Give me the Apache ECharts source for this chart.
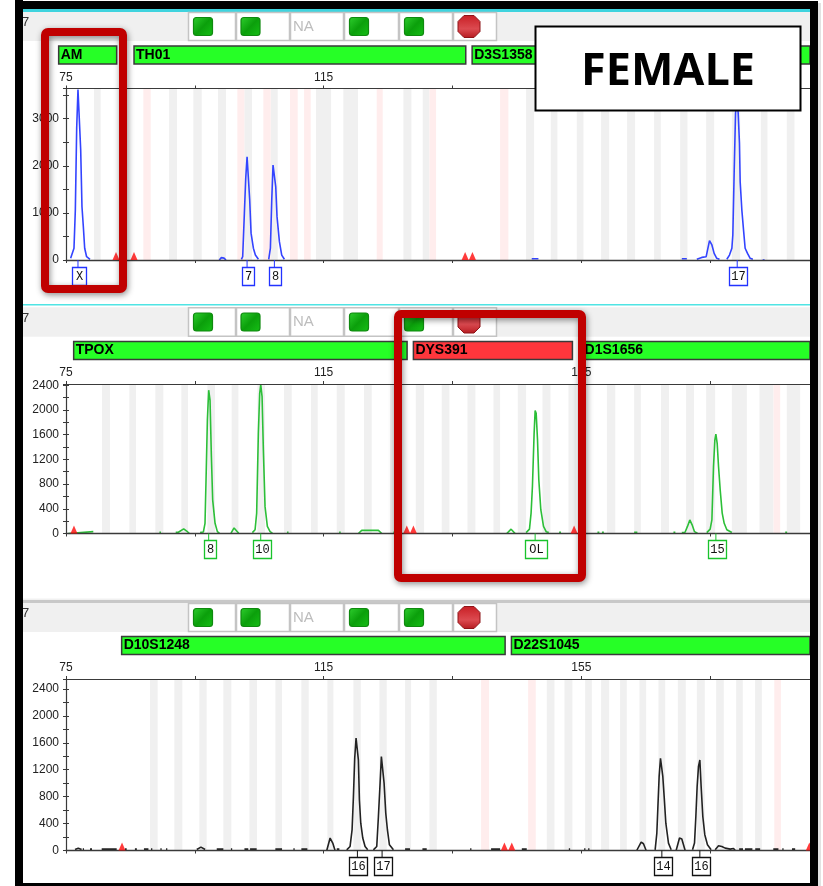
<!DOCTYPE html>
<html><head><meta charset="utf-8">
<style>html,body{margin:0;padding:0;background:#fff}#c{width:823px;height:886px}</style>
<script src="https://cdn.jsdelivr.net/npm/echarts@6/dist/echarts.min.js"></script>
</head><body><div id="c"></div>
<script>
// ---------- data (fragment size in bp, height in RFU) ----------
const xTicks = [75, 95, 115, 135, 155, 175];
const xLabels = [75, 115, 155];

const binsGray1 = [[79.35,80.38],[91,92.24],[94.77,96.07],[98.6,99.84],[102.69,103.88],[106.78,107.87],[113.82,116.15],[118.06,120.34],[127.38,128.62],[130.38,131.42],[146.43,147.67],[150.26,151.29],[154.3,155.33],[158.07,159.32],[162.11,163.35],[166.3,167.34],[170.34,171.48],[174.38,175.62],[178.37,179.66],[182.87,183.9],[186.9,188.09]];
const binsPink1 = [[87.01,88.15],[101.6,102.69],[105.64,106.78],[109.78,110.97],[111.96,112.99],[123.24,124.17],[131.42,132.45],[142.39,143.68]];
const binsGray2 = [[80.59,81.83],[84.83,85.87],[88.87,90.11],[92.91,93.94],[96.95,98.14],[100.72,101.76],[104.71,105.9],[108.85,110.04],[113.04,114.08],[117.03,118.27],[121.27,122.46],[125.31,126.35],[129.3,130.59],[133.33,134.52],[137.32,138.56],[141.36,142.39],[145.14,146.43],[148.97,150.21],[153,154.14],[158.97,160.27],[163.2,164.24],[167.37,168.61],[171.26,172.5],[174.38,175.78],[178.37,180.7],[182.66,184.84],[186.9,188.97]];
const binsPink2 = [[184.84,185.87]];
const binsGray3 = [[88.04,89.23],[91.82,93.06],[95.7,96.84],[99.43,100.67],[103.47,104.66],[107.51,108.54],[111.54,112.68],[115.58,116.51],[119.62,120.76],[123.65,124.79],[127.64,128.57],[131.42,132.56],[149.64,150.83],[152.38,153.62],[155.59,156.63],[158.07,159.32],[161.02,162.06],[164.03,165.06],[166.98,168.02],[169.98,171.22],[172.93,174.17],[175.93,177.12],[179.04,180.07],[181.98,183.02]];
const binsPink3 = [[139.44,140.68],[146.74,147.93],[184.96,185.99]];

const traceBlue = [
 [[75.72,35],[76.24,250],[76.45,1060],[76.66,2800],[76.86,3620],[77.07,3610],[77.28,2340],[77.48,1130],[77.69,710],[77.9,250],[78.2,70],[78.73,15]],
 [[98.8,0],[99.12,50],[99.53,40],[99.84,0]],
 [[102.23,15],[102.43,70],[102.69,990],[102.9,1730],[103.11,2190],[103.31,2160],[103.52,1270],[103.73,570],[104.09,250],[104.4,105],[104.87,15]],
 [[106.47,15],[106.73,250],[106.94,1270],[107.14,2015],[107.35,2050],[107.56,1555],[107.76,920],[108.13,390],[108.49,105],[108.9,15]],
 [[147.3,25],[148.34,25]],
 [[170.6,25],[171.38,25]],
 [[172.93,15],[173.7,55],[174.38,70],[174.9,410],[175.27,320],[175.62,140],[176.02,35],[176.45,15]],
 [[177.59,15],[178,105],[178.37,250],[178.52,530],[178.73,1875],[178.94,3115],[179.2,3500],[179.35,3115],[179.55,2480],[179.66,1660],[179.92,1060],[180.18,640],[180.43,250],[180.8,140],[181.21,35],[181.63,15]],
 [[183.15,0],[183.3,30],[183.45,0]]
];
const traceGreen = [
 [[75.36,0],[75.6,30],[79.24,30]],
 [[89.5,20],[89.75,20]],
 [[92.03,20],[92.44,20],[92.7,15],[93.27,75],[93.74,40],[94.15,0]],
 [[95.81,15],[96.33,25],[96.58,165],[96.74,870],[96.95,1840],[97.15,2320],[97.36,2160],[97.57,1245],[97.77,545],[98.14,165],[98.5,30],[98.81,5]],
 [[100.62,5],[101.09,90],[101.4,75],[101.81,5]],
 [[103.93,15],[104.35,60],[104.6,330],[104.86,1620],[105.07,2270],[105.23,2410],[105.44,2215],[105.64,1350],[105.9,435],[106.26,115],[106.68,30],[107.04,5]],
 [[109.3,20],[109.55,20]],
 [[117.4,20],[117.65,20]],
 [[120.39,0],[120.91,50],[123.5,50],[124.02,0]],
 [[125.83,20],[126.35,20]],
 [[143.43,0],[144.1,70],[144.72,0]],
 [[146.43,15],[146.95,70],[147.2,330],[147.41,760],[147.67,1620],[147.83,1990],[147.99,1945],[148.2,1515],[148.4,870],[148.71,385],[149.13,115],[149.54,30],[149.95,15]],
 [[151.55,20],[151.85,20]],
 [[157.5,20],[157.8,20]],
 [[158.2,20],[158.5,20]],
 [[163.2,20],[163.7,20]],
 [[169.3,20],[169.6,20]],
 [[170.6,15],[171.1,20],[171.48,115],[171.84,220],[172.2,140],[172.57,30],[173.03,5]],
 [[174.48,15],[175,70],[175.27,220],[175.52,1085],[175.73,1515],[175.89,1610],[176.09,1460],[176.3,1085],[176.56,705],[176.87,330],[177.18,165],[177.59,60],[178.37,15]],
 [[186.65,20],[186.95,20]]
];
const traceBlack = [
 [[76.4,15],[76.9,35],[77.43,15]],[[77.6,20],[77.8,20]],[[78.73,20],[79.04,20]],[[80.54,20],[82.87,20]],[[84.16,20],[84.42,20]],[[85.7,20],[86,20]],[[87.1,20],[87.8,20]],[[88.2,20],[88.4,20]],[[89.65,20],[89.85,20]],[[90.53,20],[90.73,20]],
 [[95.3,15],[95.95,50],[96.6,15]],[[98.4,20],[99.43,20]],[[100.6,20],[100.8,20]],[[102.7,20],[103.3,20]],[[103.57,20],[104.6,20]],[[107.5,20],[108.54,20]],[[110.3,20],[110.5,20]],[[111.54,20],[112.47,20]],
 [[115.48,0],[116,185],[116.41,110],[116.77,0]],[[117.03,20],[117.44,20]],
 [[118.58,10],[119.1,60],[119.41,305],[119.62,800],[119.82,1370],[120.03,1670],[120.24,1695],[120.39,1345],[120.55,750],[120.76,405],[121.07,185],[121.43,60],[121.84,10]],
 [[122.72,10],[123.24,60],[123.5,505],[123.76,1000],[123.96,1395],[124.17,1395],[124.38,1000],[124.64,555],[124.9,305],[125.21,85],[125.83,10]],
 [[127.64,20],[128.4,20]],[[130.33,20],[131,20]],[[137.74,20],[137.94,20]],[[140.99,20],[142.39,20]],[[145.76,20],[146.53,20]],[[153.06,20],[153.26,20]],[[155.44,20],[155.64,20]],[[156.06,20],[156.26,20]],
 [[163.6,0],[164.29,125],[164.65,100],[165.06,0]],
 [[166.46,10],[166.72,255],[166.88,630],[167.08,1100],[167.29,1370],[167.5,1395],[167.65,1100],[167.86,800],[168.12,405],[168.53,110],[168.95,10]],
 [[169.72,0],[170.24,185],[170.6,170],[171.12,0]],
 [[172.26,10],[172.57,110],[172.78,505],[172.98,950],[173.19,1250],[173.4,1345],[173.6,950],[173.86,505],[174.17,235],[174.58,85],[175.15,10]],
 [[175.78,10],[176.3,70],[176.81,60],[177.33,35],[178.11,20],[178.63,30],[178.9,0]],
 [[179.5,20],[180.1,20]],[[180.4,20],[181.56,20]],[[182,20],[182.76,20]],[[184.8,20],[185.6,20]],[[186.2,20],[186.4,20]],[[187.7,20],[188.2,20]]
];

const offScale1 = [82.76,85.56,136.96,138.1];
const offScale2 = [76.24,127.9,128.93,153.88];
const offScale3 = [83.7,143.06,144.2,190.4];

const alleles1 = [["X",76.86],["7",103.11],["8",107.35],["17",179.2]];
const alleles2 = [["8",97.15],["10",105.23],["OL",147.83],["15",175.89]];
const alleles3 = [["16",120.24],["17",124.07],["14",167.5],["16",173.4]];

const loci1 = [["AM",73.86,82.87],["TH01",85.56,137.06],["D3S1358",138.05,190.5]];
const loci2 = [["TPOX",76.19,127.95],["DYS391",128.93,153.62],["D1S1656",155.2,190.5]];
const loci3 = [["D10S1248",83.64,143.17],["D22S1045",144.15,190.5]];

const yMax = [3640,2420,2547];
const yInterval = [1000,400,400];
const markerTitle = "FEMALE";
const buttons = ["green","green","NA","green","green","red"];

// ---------- layout ----------
const panels = [
 {top:88.5,base:260,color:'#3344ff',box:'#2233ff',trace:traceBlue,gray:binsGray1,pink:binsPink1,off:offScale1,alleles:alleles1,loci:loci1},
 {top:384,base:533.5,color:'#2cbf38',box:'#19c32c',trace:traceGreen,gray:binsGray2,pink:binsPink2,off:offScale2,alleles:alleles2,loci:loci2},
 {top:679,base:850.5,color:'#222222',box:'#111111',trace:traceBlack,gray:binsGray3,pink:binsPink3,off:offScale3,alleles:alleles3,loci:loci3}
];
const XMIN=75, XMAX=190.5, axisCol='#3a3a3a', labelCol='#222';
const grids=[],xAxes=[],yAxes=[],series=[];
panels.forEach((p,i)=>{
 grids.push({left:66,right:13,top:p.top,height:p.base-p.top,containLabel:false});
 const base={gridIndex:i,type:'value',min:XMIN,max:XMAX,splitLine:{show:false},z:5};
 xAxes.push(Object.assign({},base,{position:'bottom',axisLine:{show:true,onZero:false,lineStyle:{color:axisCol,width:1.4}},axisTick:{show:false},axisLabel:{show:false}}));
 xAxes.push(Object.assign({},base,{position:'top',axisLine:{show:true,onZero:false,lineStyle:{color:axisCol,width:1.2}},
   axisTick:{show:true,length:3,lineStyle:{color:axisCol},customValues:xTicks},
   axisLabel:{show:true,customValues:xLabels,margin:5,fontFamily:'Liberation Sans',fontSize:12,color:labelCol}}));
 xAxes.push(Object.assign({},base,{position:'top',axisLine:{show:false},
   axisTick:{show:true,inside:true,length:3,lineStyle:{color:axisCol},customValues:xTicks},axisLabel:{show:false}}));
 const yb={gridIndex:i,type:'value',min:0,max:yMax[i],interval:yInterval[i],position:'left',splitLine:{show:false},z:5};
 yAxes.push(Object.assign({},yb,{axisLine:{show:true,onZero:false,lineStyle:{color:axisCol,width:1.2}},
   axisTick:{show:true,length:3,lineStyle:{color:axisCol}},minorTick:{show:true,splitNumber:2,length:3,lineStyle:{color:axisCol}},
   axisLabel:{show:true,showMaxLabel:false,margin:7,fontFamily:'Liberation Sans',fontSize:12,color:labelCol,formatter:v=>String(v)}}));
 yAxes.push(Object.assign({},yb,{axisLine:{show:false},
   axisTick:{show:true,inside:true,length:3,lineStyle:{color:axisCol}},minorTick:{show:true,splitNumber:2,length:3,lineStyle:{color:axisCol}},
   axisLabel:{show:false}}));
 const xi=3*i, yi=2*i;
 const binSeries=(bins,fill)=>({type:'custom',xAxisIndex:xi,yAxisIndex:yi,z:1,clip:true,silent:true,data:bins,
   encode:{x:[0,1]},
   renderItem:(par,api)=>{const a=api.coord([api.value(0),yMax[i]]),b=api.coord([api.value(1),0]);
     return {type:'rect',shape:{x:a[0],y:a[1],width:b[0]-a[0],height:b[1]-a[1]},style:{fill}};}});
 series.push(binSeries(p.gray,'#f0f0f0'));
 series.push(binSeries(p.pink,'#ffeded'));
 // locus bars
 series.push({type:'custom',xAxisIndex:xi,yAxisIndex:yi,z:3,clip:false,silent:true,
   data:p.loci.map(l=>[l[1],l[2]]),encode:{x:[0,1]},
   renderItem:(par,api)=>{const a=api.coord([api.value(0),yMax[i]]),b=api.coord([api.value(1),yMax[i]]);
     const red=p.loci[par.dataIndex][0]==='DYS391';
     return {type:'group',children:[
      {type:'rect',shape:{x:a[0],y:p.top-42.5,width:b[0]-a[0],height:18},style:{fill:red?'#ff363c':'#26ff26',stroke:'#3a3a3a',lineWidth:1.5}},
      {type:'text',style:{x:a[0]+2,y:p.top-33.5,text:p.loci[par.dataIndex][0],fill:'#000',font:'bold 14px "Liberation Sans"',verticalAlign:'middle'}}
     ]};}});
 // trace
 const data=[];p.trace.forEach(s=>{s.forEach(q=>data.push(q));data.push([s[s.length-1][0],null]);});
 series.push({type:'line',xAxisIndex:xi,yAxisIndex:yi,z:4,data,showSymbol:false,silent:true,connectNulls:false,
   lineStyle:{color:p.color,width:1.6},itemStyle:{color:p.color},animation:false});
 // off-scale triangles
 series.push({type:'scatter',xAxisIndex:xi,yAxisIndex:yi,z:6,silent:true,data:p.off.map(v=>[v,0]),
   symbol:'triangle',symbolSize:[7,8],symbolOffset:[0,-4],itemStyle:{color:'#ff0a0a'},clip:false});
 // allele boxes
 series.push({type:'custom',xAxisIndex:xi,yAxisIndex:yi,z:6,clip:false,silent:true,
   data:p.alleles.map(a=>[a[1],0]),encode:{x:0,y:1},
   renderItem:(par,api)=>{const c=api.coord([api.value(0),0]);const t=p.alleles[par.dataIndex][0];
     const w=t==='OL'?22:(t.length>1?18:(t==='X'?14:12));const x0=Math.round(c[0]+1-w/2)+.5,y0=Math.round(p.base+6.5)+.5;
     return {type:'group',children:[
      {type:'line',shape:{x1:c[0],y1:p.base,x2:c[0],y2:y0},style:{stroke:p.box,lineWidth:1}},
      {type:'rect',shape:{x:x0,y:y0,width:w,height:18},style:{fill:'#fff',stroke:p.box,lineWidth:1.3}},
      {type:'text',style:{x:x0+w/2,y:y0+9.5,text:t,fill:'#111',font:'12px "Liberation Mono"',align:'center',verticalAlign:'middle'}}
     ]};}});
});

// ---------- window chrome ----------
const g=[];
const R=(x,y,w,h,fill,z,extra)=>g.push(Object.assign({type:'rect',z:z||1,silent:true,shape:{x,y,width:w,height:h},style:{fill}},extra||{}));
const cells=[[188,48],[236,54],[290,54],[344,55],[399,54],[453,44]];
const centers=[203,250.5,null,359,414,469];
[[12,41],[307.3,336.7],[603,632]].forEach((b,pi)=>{
 const cy=(b[0]+b[1])/2;
 R(23,b[0],787,b[1]-b[0],'#f0f0f0');
 g.push({type:'text',z:2,silent:true,style:{x:22,y:cy-4,text:'7',fill:'#333',font:'13px "Liberation Sans"',verticalAlign:'middle'}});
 buttons.forEach((k,j)=>{
  g.push({type:'rect',z:2,silent:true,shape:{x:cells[j][0]+.5,y:b[0]+.5,width:cells[j][1]-1,height:b[1]-b[0]-1},style:{fill:'#fff',stroke:'#c4c4c4',lineWidth:1.5}});
  const c=centers[j];
  if(k==='green')g.push({type:'rect',z:3,silent:true,shape:{x:c-9.5,y:cy-9,width:19,height:18,r:3},
    style:{fill:{type:'linear',x:0,y:0,x2:1,y2:1,colorStops:[{offset:0,color:'#2fd02f'},{offset:.5,color:'#0b9f0b'},{offset:1,color:'#16c016'}]},stroke:'#0f8a0f',lineWidth:1.2}});
  else if(k==='NA')g.push({type:'text',z:3,silent:true,style:{x:cells[j][0]+3,y:cy,text:'NA',fill:'#bdbdbd',font:'15px "Liberation Sans"',verticalAlign:'middle'}});
  else g.push({type:'polygon',z:3,silent:true,shape:{points:[[-5,-11],[5,-11],[11,-5],[11,5],[5,11],[-5,11],[-11,5],[-11,-5]].map(q=>[q[0]+c,q[1]+cy])},
    style:{fill:{type:'linear',x:0,y:0,x2:0,y2:1,colorStops:[{offset:0,color:'#c81e24'},{offset:.6,color:'#dc4a50'},{offset:1,color:'#b51a20'}]},stroke:'#8e1418',lineWidth:1}});
 });
});
R(23,9,787,3,'#3fd3de');
R(23,304,787,1.6,'#4fe4e4');
R(23,600,787,3,'#c8c8c8');
R(23,598.8,787,.8,'#e4e4e4');
// black frame
R(15,0,8,886,'#000',50);
R(15,1,803,8,'#000',50);
R(810,1,8,885,'#000',50);
R(15,883,803,3,'#000',50);
R(818,3,3,883,'#e2e2e2',49);
// title box
g.push({type:'rect',z:60,silent:true,shape:{x:535.5,y:26.5,width:265,height:84},style:{fill:'#fff',stroke:'#000',lineWidth:2}});
g.push({type:'text',z:61,silent:true,style:{x:668,y:72,text:markerTitle,fill:'#000',font:'bold 45px "Open Sans"',align:'center',verticalAlign:'middle'}});
// red highlight frames
const redFrame=(x,y,w,h)=>g.push({type:'rect',z:70,silent:true,shape:{x,y,width:w,height:h,r:3},
  style:{fill:'none',stroke:'#c00000',lineWidth:8,shadowBlur:6,shadowColor:'rgba(0,0,0,.45)',shadowOffsetX:1,shadowOffsetY:2}});
redFrame(45,32,78,257);
redFrame(398,314,184,264);

const chart=echarts.init(document.getElementById('c'),null,{renderer:'canvas'});
chart.setOption({animation:false,backgroundColor:'#fff',grid:grids,xAxis:xAxes,yAxis:yAxes,series,graphic:{elements:g}});
</script></body></html>
